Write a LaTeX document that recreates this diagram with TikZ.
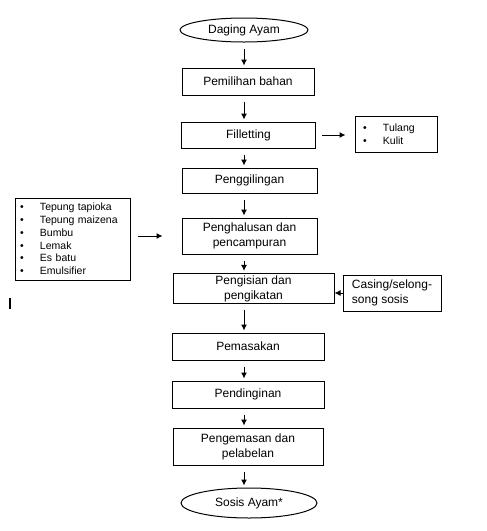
\documentclass[tikz,border=0pt]{standalone}
\usepackage{fontspec}
\setmainfont{Liberation Sans}
\usepackage{tikz}
\usetikzlibrary{arrows.meta}
\usetikzlibrary{shapes.geometric}

\newcommand{\butir}[1]{\makebox[20pt][l]{\textbullet}#1}

\begin{document}
\begin{tikzpicture}[x=1pt, y=-1pt, line width=1pt,
		every node/.style={font=\fontsize{12}{15}\selectfont},
		proses/.style={draw, minimum height=27pt, inner sep=2pt, align=center},
		ujung/.style={draw, ellipse, inner sep=0pt},
		daftar/.style={draw, align=left, inner ysep=3pt, font=\fontsize{10.5}{12.8}\selectfont},
		alir/.style={-{Latex[length=6pt, width=6pt]}, shorten <=6pt, shorten >=2pt}]
				\useasboundingbox (0,0) rectangle (487,531);
				
				\node[ujung, minimum width=128pt, minimum height=24pt] (daging) at (244,30) {Daging Ayam};
				\node[proses, minimum width=132pt] (pilih) at (248,81.5) {Pemilihan bahan};
				\node[proses, minimum width=134pt, minimum height=26pt] (fillet) at (248.5,135) {Filletting};
				\node[proses, minimum width=135pt, minimum height=25pt] (giling) at (249.5,180.5) {Penggilingan};
				\node[proses, minimum width=135pt, minimum height=36pt] (halus) at (249.5,236) {Penghalusan dan\\pencampuran};
				\node[proses, minimum width=161pt, minimum height=29pt] (isi) at (253.5,288.5) {Pengisian dan\\pengikatan};
				\node[proses, minimum width=152pt] (masak) at (248,346.5) {Pemasakan};
				\node[proses, minimum width=152pt] (dingin) at (248,394.5) {Pendinginan};
				\node[proses, minimum width=150pt, minimum height=37pt] (kemas) at (248,446.5) {Pengemasan dan\\pelabelan};
				\node[ujung, minimum width=136pt, minimum height=30pt] (sosis) at (249,503) {Sosis Ayam*};
				
				% bahan tambahan dan hasil samping
				\node[daftar, minimum width=115pt, minimum height=82pt, text width=105pt, inner xsep=5pt] (bahan) at (72.5,239)
				{\butir{Tepung tapioka}\\\butir{Tepung maizena}\\\butir{Bumbu}\\\butir{Lemak}\\\butir{Es batu}\\\butir{Emulsifier}};
				\node[daftar, minimum width=82pt, minimum height=36pt, text width=66pt, inner xsep=8pt] (buang) at (396,134)
				{\butir{Tulang}\\\butir{Kulit}};
				\node[proses, minimum width=98pt, minimum height=36pt, align=left] (casing) at (392,293) {Casing/selong-\\song sosis};
				
				\draw[alir] (daging.south) -- (daging.south |- pilih.north);
				\draw[alir] (pilih.south -| daging) -- (fillet.north -| daging);
				\draw[alir] (fillet.south -| daging) -- (giling.north -| daging);
				\draw[alir] (giling.south -| daging) -- (halus.north -| daging);
				\draw[alir] (halus.south -| daging) -- (isi.north -| daging);
				\draw[alir] (isi.south -| daging) -- (masak.north -| daging);
				\draw[alir] (masak.south -| daging) -- (dingin.north -| daging);
				\draw[alir] (dingin.south -| daging) -- (kemas.north -| daging);
				\draw[alir] (kemas.south -| daging) -- (sosis.north -| daging);
				
				\draw[alir, shorten >=9pt] (fillet.east) -- (fillet.east -| buang.west);
				\draw[alir, shorten <=7pt, shorten >=19pt] (bahan.east |- halus.west) -- (halus.west);
				\draw[alir, shorten <=0pt, shorten >=0pt] (casing.west) -- (casing.west -| isi.east);
				
				\draw[line width=2pt] (10,298) -- (10,309);
			\end{tikzpicture}
\end{document}
